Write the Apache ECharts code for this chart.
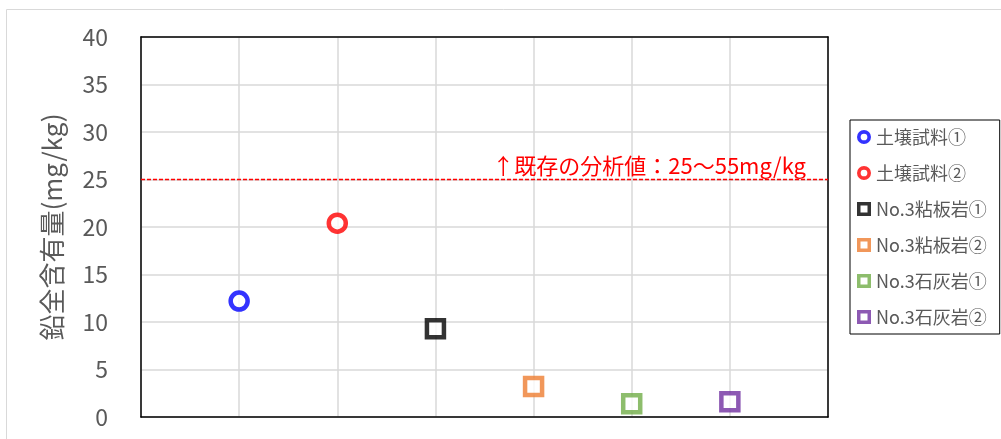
<!DOCTYPE html>
<html>
<head>
<meta charset="UTF-8">
<title></title>
<script src="https://cdn.jsdelivr.net/npm/echarts@6/dist/echarts.min.js"></script>
<style>
  html, body { margin: 0; padding: 0; background: #fff; }
</style>
</head>
<body>
<div id="main" style="width:1001px;height:439px;"></div>
<script>
// data
var names = ['土壌試料①', '土壌試料②', 'No.3粘板岩①', 'No.3粘板岩②', 'No.3石灰岩①', 'No.3石灰岩②'];
var xPos = [1, 2, 3, 4, 5, 6];
var values = [12.2, 20.4, 9.3, 3.2, 1.4, 1.6];
var refValue = 25;
var refRange = [0, 7];
var refLabel = '↑既存の分析値：25～55mg/kg';
var yTicks = [0, 5, 10, 15, 20, 25, 30, 35, 40];

var colors = ['#0000ff', '#ff0000', '#000000', '#ed7d31', '#70ad47', '#7030a0'];
var shapes = ['circle', 'circle', 'rect', 'rect', 'rect', 'rect'];
var font = '"Noto Sans CJK JP", "Noto Sans", sans-serif';

// hollow legend icons (outer and inner path wound opposite ways)
var ringIcon = 'path://M5,0A5,5 0 1,1 5,10A5,5 0 1,1 5,0Z M5,2.6A2.4,2.4 0 1,0 5,7.4A2.4,2.4 0 1,0 5,2.6Z';
var boxIcon = 'path://M0,0H10V10H0Z M2.5,2.5V7.5H7.5V2.5Z';

var myChart = echarts.init(document.getElementById('main'));

var series = [];
var legendData = [];
for (var i = 0; i < names.length; i++) {
    series.push({
        name: names[i],
        type: 'scatter',
        symbol: shapes[i],
        symbolSize: 17,
        itemStyle: {
            color: '#fff',
            borderColor: colors[i],
            borderWidth: 4.5
        },
        data: [[xPos[i], values[i]]],
        z: 5
    });
    legendData.push({
        name: names[i],
        icon: shapes[i] == 'circle' ? ringIcon : boxIcon,
        itemStyle: { color: colors[i], borderWidth: 0 }
    });
}

// reference line: dashed red across the whole plot, label above its right end
series.push({
    type: 'line',
    name: 'ref',
    z: 6,
    silent: true,
    symbol: 'circle',
    symbolSize: 0.1,
    color: '#ff0000',
    itemStyle: { color: '#ff0000' },
    lineStyle: { color: '#ff0000', type: [4, 2], width: 1.6 },
    data: [
        { value: [refRange[0], refValue] },
        {
            value: [refRange[1], refValue],
            label: {
                show: true,
                formatter: refLabel,
                position: 'top',
                align: 'right',
                offset: [-22, 2],
                color: '#ff0000',
                fontSize: 22,
                fontFamily: font
            }
        }
    ]
});

var edge = { show: true, onZero: false, lineStyle: { color: '#000', width: 1.5 } };

var option = {
    animation: false,
    textStyle: { fontFamily: font },
    graphic: [{
        type: 'polyline',
        shape: { points: [[6.5, 440], [6.5, 9.5], [1001, 9.5]] },
        style: { stroke: '#d9d9d9', fill: null, lineWidth: 1 },
        silent: true
    }],
    grid: {
        left: 141, top: 37, width: 687, height: 380,
        containLabel: false
    },
    legend: {
        orient: 'vertical',
        left: 850, top: 120,
        padding: [8, 13, 8, 7],
        borderColor: '#000', borderWidth: 1,
        itemWidth: 14, itemHeight: 14,
        itemGap: 18,
        textStyle: { fontSize: 18, lineHeight: 18, color: '#595959', fontFamily: font },
        data: legendData
    },
    xAxis: [{
        type: 'value',
        min: 0, max: 7, interval: 1,
        axisLine: edge,
        axisTick: { show: false },
        axisLabel: { show: false },
        splitLine: { show: true, lineStyle: { color: '#d9d9d9', width: 1.5 } }
    }, {
        type: 'value', position: 'top',
        min: 0, max: 7,
        axisLine: edge,
        axisTick: { show: false },
        axisLabel: { show: false },
        splitLine: { show: false }
    }],
    yAxis: [{
        type: 'value',
        min: yTicks[0], max: yTicks[yTicks.length - 1], interval: 5,
        name: '鉛全含有量(mg/kg)',
        nameLocation: 'middle',
        nameGap: 76,
        nameTextStyle: { fontSize: 26, color: '#595959', fontFamily: font },
        axisLine: edge,
        axisTick: { show: false },
        axisLabel: { fontSize: 23, color: '#595959', margin: 33, fontFamily: font },
        splitLine: { show: true, lineStyle: { color: '#d9d9d9', width: 1.5 } }
    }, {
        type: 'value', position: 'right',
        min: 0, max: 40,
        axisLine: edge,
        axisTick: { show: false },
        axisLabel: { show: false },
        splitLine: { show: false }
    }],
    series: series
};

myChart.setOption(option);
</script>
</body>
</html>
